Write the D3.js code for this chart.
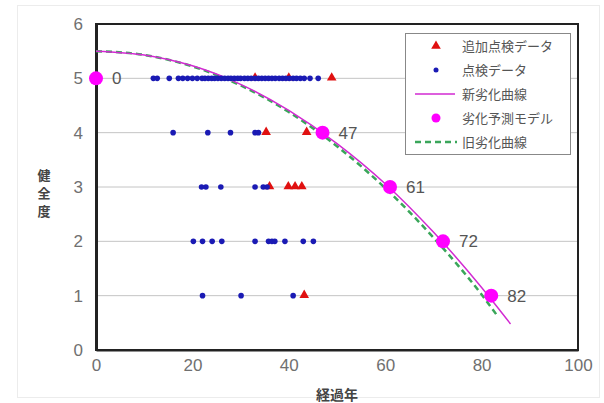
<!DOCTYPE html>
<html>
<head>
<meta charset="utf-8">
<script src="https://cdn.jsdelivr.net/npm/d3@7"></script>
<style>
  body { margin: 0; background: #fff; }
  text { font-family: "Liberation Sans", Arial, sans-serif; }
  .jp { font-family: "Noto Sans CJK JP", sans-serif; }
</style>
</head>
<body>
<div id="chart"></div>
<script>
// 劣化予測モデル
var modelYears = [0, 47, 61, 72, 82];
var modelGrades = [5, 4, 3, 2, 1];

// 新劣化曲線 / 旧劣化曲線
var newCurveX = [0, 10, 20, 30, 40, 50, 60, 70, 80, 86];
var newCurveY = [5.5, 5.43, 5.23, 4.89, 4.41, 3.8, 3.06, 2.17, 1.15, 0.48];
var oldCurveX = [0, 10, 20, 30, 40, 50, 60, 70, 80, 83.5];
var oldCurveY = [5.5, 5.43, 5.22, 4.87, 4.38, 3.75, 2.98, 2.07, 1.02, 0.6];

// 点検データ (years per grade)
var inspect5 = [11.9, 12.7, 15.2, 17.1, 18, 19, 20, 21, 22, 22.6, 23.3, 24, 24.6, 25.3, 26, 26.7, 27.4, 28, 28.7, 29.4, 30, 30.8, 31.5, 32.2, 33, 33.7, 34.4, 35.1, 35.8, 36.5, 37.2, 38, 38.7, 39.4, 40.1, 40.9, 41.6, 42.4, 43.2, 44.4, 46.1];
var inspect4 = [16.0, 23.2, 27.9, 33.0, 33.7];
var inspect3 = [21.9, 22.8, 25.9, 33.0, 34.7, 35.5];
var inspect2 = [20.2, 22.1, 24.1, 26.1, 33.0, 35.8, 36.5, 37.1, 39.2, 43.0, 45.1];
var inspect1 = [22.1, 30.1, 40.9];

// 追加点検データ
var extra5 = [33, 40, 48.9];
var extra4 = [35.3, 43.7];
var extra3 = [36, 39.9, 41.3, 42.7];
var extra2 = [];
var extra1 = [43.2];

var xTicks = [0, 20, 40, 60, 80, 100];
var yTicks = [0, 1, 2, 3, 4, 5, 6];
var legendLabels = ["追加点検データ", "点検データ", "新劣化曲線", "劣化予測モデル", "旧劣化曲線"];

var W = 604, H = 403;
var svg = d3.select("#chart").append("svg")
    .attr("width", W)
    .attr("height", H);

svg.append("rect")
    .attr("x", 17.5).attr("y", 5.5)
    .attr("width", 582).attr("height", 392)
    .attr("fill", "#fff")
    .attr("stroke", "#ececec");

var x = d3.scaleLinear().domain([0, 100]).range([96, 578]);
var y = d3.scaleLinear().domain([0, 6]).range([350, 24]);

// gridlines
svg.append("g")
    .selectAll("line")
    .data([1, 2, 3, 4, 5])
    .enter().append("line")
    .attr("x1", x(0)).attr("x2", x(100))
    .attr("y1", function (d) { return y(d); })
    .attr("y2", function (d) { return y(d); })
    .attr("stroke", "#c4c4c4")
    .attr("stroke-width", 1);

// frame
svg.append("rect")
    .attr("x", x(0)).attr("y", y(6))
    .attr("width", x(100) - x(0))
    .attr("height", y(0) - y(6))
    .attr("fill", "none")
    .attr("stroke", "#222")
    .attr("stroke-width", 2);

// axes
var yAxis = svg.append("g")
    .attr("transform", "translate(" + x(0) + ",0)")
    .call(d3.axisLeft(y).tickValues(yTicks).tickFormat(d3.format("d")).tickSize(0).tickPadding(13));
var xAxis = svg.append("g")
    .attr("transform", "translate(0," + y(0) + ")")
    .call(d3.axisBottom(x).tickValues(xTicks).tickFormat(d3.format("d")).tickSize(0).tickPadding(9));
[yAxis, xAxis].forEach(function (a) {
    a.select(".domain").attr("stroke", "#222").attr("stroke-width", 3);
    a.selectAll("text")
        .attr("fill", "#707070")
        .style("font-size", "17px")
        .style("font-family", "'Liberation Sans', Arial, sans-serif");
});
xAxis.select(".domain").attr("stroke-width", 2);

svg.append("text")
    .attr("class", "jp")
    .attr("x", 337).attr("y", 400)
    .attr("text-anchor", "middle")
    .attr("fill", "#444")
    .style("font-size", "14px")
    .style("font-weight", "bold")
    .text("経過年");

svg.append("text")
    .attr("class", "jp")
    .attr("fill", "#444")
    .style("font-size", "13px")
    .style("font-weight", "bold")
    .attr("text-anchor", "middle")
    .selectAll("tspan")
    .data("健全度".split(""))
    .enter().append("tspan")
    .attr("x", 44)
    .attr("y", function (d, i) { return 180 + i * 18; })
    .text(function (d) { return d; });

// curves
var line = d3.line()
    .x(function (d) { return x(d[0]); })
    .y(function (d) { return y(d[1]); })
    .curve(d3.curveMonotoneX);

svg.append("path")
    .datum(d3.zip(oldCurveX, oldCurveY))
    .attr("d", line)
    .attr("fill", "none")
    .attr("stroke", "#3aa65a")
    .attr("stroke-width", 2.5)
    .attr("stroke-dasharray", "6,4");

svg.append("path")
    .datum(d3.zip(newCurveX, newCurveY))
    .attr("d", line)
    .attr("fill", "none")
    .attr("stroke", "#d22ad2")
    .attr("stroke-width", 1.5);

// 追加点検データ
var extras = [[5, extra5], [4, extra4], [3, extra3], [2, extra2], [1, extra1]];
var extraPts = [];
extras.forEach(function (r) { r[1].forEach(function (v) { extraPts.push([v, r[0]]); }); });

var tri = d3.symbol().type(d3.symbolTriangle).size(40);
svg.append("g").selectAll("path")
    .data(extraPts)
    .enter().append("path")
    .attr("d", tri)
    .attr("transform", function (d) { return "translate(" + x(d[0]) + "," + (y(d[1]) - 0.5) + ")"; })
    .attr("fill", "#e01010");

// 点検データ
var rows = [[5, inspect5], [4, inspect4], [3, inspect3], [2, inspect2], [1, inspect1]];
var pts = [];
rows.forEach(function (r) { r[1].forEach(function (v) { pts.push([v, r[0]]); }); });

svg.append("g").selectAll("circle")
    .data(pts)
    .enter().append("circle")
    .attr("cx", function (d) { return x(d[0]); })
    .attr("cy", function (d) { return y(d[1]); })
    .attr("r", 2.8)
    .attr("fill", "#1a1ab4");

// 劣化予測モデル
var model = d3.zip(modelYears, modelGrades);
svg.append("g").selectAll("circle")
    .data(model)
    .enter().append("circle")
    .attr("cx", function (d) { return x(d[0]); })
    .attr("cy", function (d) { return y(d[1]); })
    .attr("r", 7)
    .attr("fill", "#ff00ff");

svg.append("g").selectAll("text")
    .data(model)
    .enter().append("text")
    .attr("x", function (d) { return x(d[0]) + 16; })
    .attr("y", function (d) { return y(d[1]); })
    .attr("dy", "0.36em")
    .attr("fill", "#555")
    .style("font-size", "17px")
    .text(function (d) { return d[0]; });

// legend
var lg = svg.append("g");
lg.append("rect")
    .attr("x", 405.5).attr("y", 33.5)
    .attr("width", 165).attr("height", 121)
    .attr("fill", "#fff")
    .attr("stroke", "#888");

var ly = d3.scalePoint().domain(legendLabels).range([46, 142]);
var items = lg.selectAll("g")
    .data(legendLabels)
    .enter().append("g")
    .attr("transform", function (d) { return "translate(0," + ly(d) + ")"; });

items.append("text")
    .attr("class", "jp")
    .attr("x", 462)
    .attr("dy", "0.35em")
    .attr("fill", "#555")
    .style("font-size", "13px")
    .text(function (d) { return d; });

items.filter(function (d, i) { return i === 0; }).append("path")
    .attr("d", tri)
    .attr("transform", "translate(436,0)")
    .attr("fill", "#e01010");
items.filter(function (d, i) { return i === 1; }).append("circle")
    .attr("cx", 436).attr("r", 2.5).attr("fill", "#1a1ab4");
items.filter(function (d, i) { return i === 2; }).append("line")
    .attr("x1", 415).attr("x2", 455)
    .attr("stroke", "#d22ad2").attr("stroke-width", 1.5);
items.filter(function (d, i) { return i === 3; }).append("circle")
    .attr("cx", 436).attr("r", 4.5).attr("fill", "#ff00ff");
items.filter(function (d, i) { return i === 4; }).append("line")
    .attr("x1", 415).attr("x2", 457)
    .attr("stroke", "#3aa65a").attr("stroke-width", 2.5)
    .attr("stroke-dasharray", "6,4");
</script>
</body>
</html>
